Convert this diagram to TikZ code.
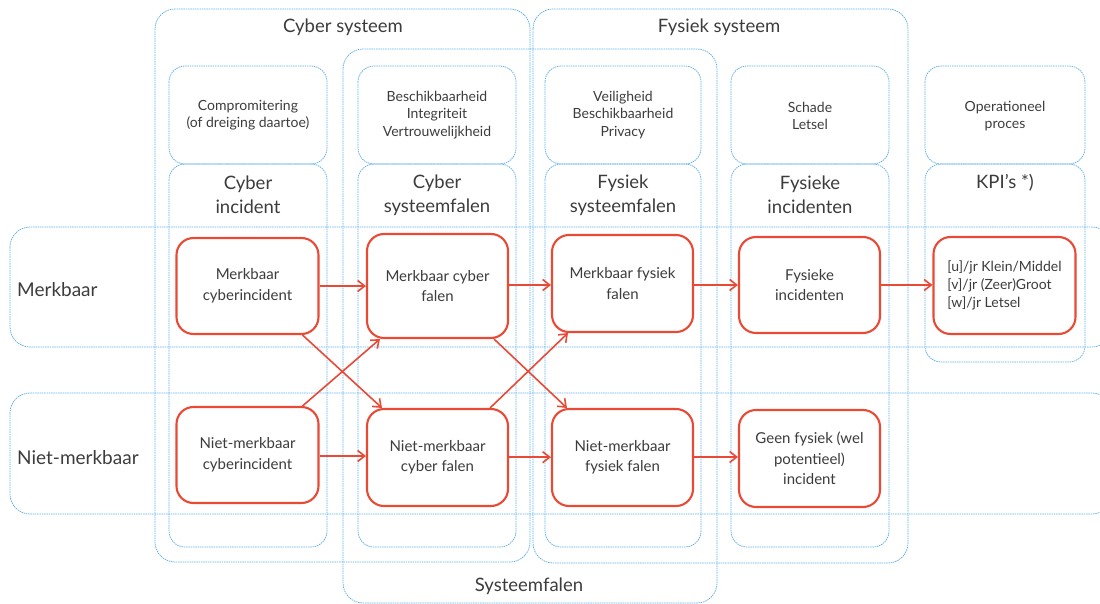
\documentclass[tikz,border=0pt]{standalone}
\usepackage{fontspec}
\setmainfont{Lato}
\usetikzlibrary{arrows.meta,calc}
\definecolor{bl}{RGB}{96,176,232}
\definecolor{rd}{RGB}{232,74,54}
\definecolor{tx}{RGB}{60,60,60}
\tikzset{
  bluebox/.style={draw=bl, line width=0.75pt, dash pattern=on 1.5pt off 0.8pt, rounded corners=20pt},
  smallbox/.style={draw=bl, line width=0.75pt, dash pattern=on 1.5pt off 0.8pt, rounded corners=16pt},
  redbox/.style={draw=rd, line width=2.1pt, rounded corners=17pt, fill=white, text=tx, align=center,
    font=\fontsize{15}{20.5}\selectfont, inner sep=0pt},
  flow/.style={draw=rd, line width=1.6pt, -{Straight Barb[length=7pt,width=11pt,line width=1.6pt]}},
  title/.style={text=tx, font=\fontsize{18.5}{24}\selectfont, align=center, inner sep=0pt},
  head/.style={text=tx, font=\fontsize{18.5}{24}\selectfont, align=center, inner sep=0pt},
  small/.style={text=tx, font=\fontsize{14}{17.5}\selectfont, align=center, inner sep=0pt},
  rowlabel/.style={text=tx, font=\fontsize{19}{24}\selectfont, anchor=west, inner sep=0pt}
}
\begin{document}
\begin{tikzpicture}[x=1pt,y=-1pt]
\useasboundingbox (0,0) rectangle (1100,604);
% containers
\draw[bluebox] (155,9) rectangle (530,562);
\draw[bluebox] (533,9) rectangle (908,563);
\draw[bluebox] (343,49) rectangle (717,603);
% top boxes
\draw[smallbox] (169,66) rectangle (327,164);
\draw[smallbox] (358,66) rectangle (516,164);
\draw[smallbox] (545,66) rectangle (701,164);
\draw[smallbox] (731,66) rectangle (889,164);
\draw[smallbox] (925,66) rectangle (1085,164);
% column boxes
\draw[smallbox] (169,164) rectangle (327,547);
\draw[smallbox] (358,164) rectangle (516,547);
\draw[smallbox] (545,164) rectangle (701,547);
\draw[smallbox] (731,164) rectangle (889,547);
\draw[smallbox] (925,164) rectangle (1085,362);
% row bands
\draw[bluebox] (10,227) rectangle (1112,347);
\draw[bluebox] (10,393) rectangle (1112,514);
% titles
\node[title] (tcs) at (343,27) {Cyber systeem};
\node[title] (tfs) at (719,27) {Fysiek systeem};
\node[title] (tsf) at (529,586) {Systeemfalen};
% top texts
\node[small] (t1) at (248,115) {Compromitering\\(of dreiging daartoe)};
\node[small] (t2) at (437,115) {Beschikbaarheid\\Integriteit\\Vertrouwelijkheid};
\node[small] (t3) at (623,115) {Veiligheid\\Beschikbaarheid\\Privacy};
\node[small] (t4) at (810,116) {Schade\\Letsel};
\node[small] (t5) at (1005,116) {Operationeel\\proces};
% column headers
\node[head] (h1) at (248,195) {Cyber\\incident};
\node[head] (h2) at (437,195) {Cyber\\systeemfalen};
\node[head] (h3) at (623,195) {Fysiek\\systeemfalen};
\node[head] (h4) at (810,195) {Fysieke\\incidenten};
\node[head] (h5) at (1005,183) {KPI's *)};
% row labels
\node[rowlabel] (r1) at (17,290) {Merkbaar};
\node[rowlabel] (r2) at (17,458) {Niet-merkbaar};
% red boxes
\node[redbox, minimum width=142pt, minimum height=96pt] (mci) at (247.5,286) {Merkbaar\\cyberincident};
\node[redbox, minimum width=141pt, minimum height=104pt] (mcf) at (437.5,286) {Merkbaar cyber\\falen};
\node[redbox, minimum width=141pt, minimum height=97pt] (mff) at (622.5,283.5) {Merkbaar fysiek\\falen};
\node[redbox, minimum width=141pt, minimum height=96pt] (fi) at (809.5,285) {Fysieke\\incidenten};
\node[redbox, minimum width=142pt, minimum height=97pt, align=left, font=\fontsize{14}{18}\selectfont] (kpi) at (1004.5,285.5) {[u]/jr Klein/Middel\\{}[v]/jr (Zeer)Groot\\{}[w]/jr Letsel};
\node[redbox, minimum width=142pt, minimum height=96pt] (nci) at (247.5,455) {Niet-merkbaar\\cyberincident};
\node[redbox, minimum width=141pt, minimum height=97pt] (ncf) at (437.5,457.5) {Niet-merkbaar\\cyber falen};
\node[redbox, minimum width=141pt, minimum height=97pt] (nff) at (622.5,457.5) {Niet-merkbaar\\fysiek falen};
\node[redbox, minimum width=141pt, minimum height=97pt] (gf) at (809.5,458.5) {Geen fysiek (wel\\potentieel)\\incident};
% arrows
\draw[flow] (mci.east) -- (mci.east -| mcf.west);
\draw[flow] ($(mcf.east)+(0,-1)$) -- ($(mcf.east -| mff.west)+(0,-1)$);
\draw[flow] ($(mff.east)+(0,1.5)$) -- ($(mff.east -| fi.west)+(0,1.5)$);
\draw[flow] (fi.east) -- (fi.east -| kpi.west);
\draw[flow] ($(nci.east)+(0,1)$) -- ($(nci.east -| ncf.west)+(0,1)$);
\draw[flow] ($(ncf.east)+(0,-0.3)$) -- ($(ncf.east -| nff.west)+(0,-0.3)$);
\draw[flow] ($(nff.east)+(0,-0.5)$) -- ($(nff.east -| gf.west)+(0,-0.5)$);
\draw[flow] ($(mci.south east)+(-17,0)$) -- ($(ncf.north west)+(16,0)$);
\draw[flow] ($(nci.north east)+(-17,0)$) -- ($(mcf.south west)+(14,0)$);
\draw[flow] ($(mcf.south east)+(-15,0)$) -- ($(nff.north west)+(16,0)$);
\draw[flow] ($(ncf.north east)+(-19,0)$) -- ($(mff.south west)+(17,0)$);
\end{tikzpicture}
\end{document}
